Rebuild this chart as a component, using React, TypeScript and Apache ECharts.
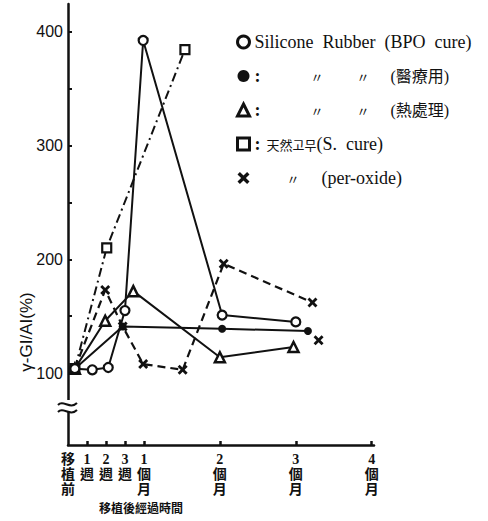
import React, { useEffect, useRef } from 'react';
import * as echarts from 'echarts';

// Series names (legend order)
const SERIES_NAMES = [
  'Silicone Rubber (BPO cure)',
  '〃 〃 (醫療用)',
  '〃 〃 (熱處理)',
  '天然고무(S. cure)',
  '〃 (per-oxide)',
];

// x: months after transplantation, y: γ-GI/AI (%)
const bpoMonths = [0.09, 0.32, 0.53, 0.75, 0.99, 2.03, 3.0];
const bpoValues = [104, 103, 105, 155, 392, 151, 145];
const medMonths = [0.09, 0.72, 2.03, 3.16];
const medValues = [104, 141, 139, 137];
const heatMonths = [0.09, 0.49, 0.86, 2.0, 2.97];
const heatValues = [104, 146, 172, 114, 123];
const natSMonths = [0.09, 0.51, 1.54];
const natSValues = [104, 210, 384];
const natPMonths = [0.09, 0.49, 0.72, 0.99, 1.51, 2.05, 3.22];
const natPValues = [104, 173, 141, 108, 103, 196, 162];
const extraMonths = [3.3];
const extraValues = [129];

// Axis ticks / labels
const X_TICKS = [0.25, 0.5, 0.75, 1, 2, 3, 4];
const X_LABEL_VALUES = [0, 0.25, 0.5, 0.75, 1, 2, 3, 4];
const X_LABELS = ['移\n植\n前', '1\n週', '2\n週', '3\n週', '1\n個\n月', '2\n個\n月', '3\n個\n月', '4\n個\n月'];
const Y_TICKS = [100, 150, 200, 250, 300, 350, 400];
const Y_LABELS = [100, 200, 300, 400];

const X_TITLE = '移植後經過時間';
const Y_TITLE = 'γ-GI/AI(%)';

const BLACK = '#111111';
const X_PATH = 'path://M2,0 L5,3 L8,0 L10,2 L7,5 L10,8 L8,10 L5,7 L2,10 L0,8 L3,5 L0,2 Z';

const pts = (ms: number[], vs: number[]) => ms.map((m, i) => [m, vs[i]]);

const LEGEND_TEXT: Record<string, string> = {
  [SERIES_NAMES[0]]: '{lat|Silicone  Rubber  (BPO  cure)}',
  [SERIES_NAMES[1]]: '{col|:}{q1|〃}{q2|〃}{cjk|(醫療用)}',
  [SERIES_NAMES[2]]: '{col|:}{q1|〃}{q2|〃}{cjk|(熱處理)}',
  [SERIES_NAMES[3]]: '{col4|:}{kr|天然고무}{lat|(S.  cure)}',
  [SERIES_NAMES[4]]: '{q5|〃}{lat|(per-oxide)}',
};

export default function App() {
  const ref = useRef<HTMLDivElement>(null);
  useEffect(() => {
    if (!ref.current) return;
    const chart = echarts.init(ref.current, undefined, { renderer: 'svg' });
    const lineBase = (name: string, data: number[][], line: any, symbol: string, size: number, item: any, z = 3) => ({
      name,
      type: 'line',
      data,
      symbol,
      symbolSize: size,
      lineStyle: { color: BLACK, width: 2, ...line },
      itemStyle: item,
      z,
    });
    chart.setOption({
      animation: false,
      backgroundColor: '#ffffff',
      grid: { left: 68, right: 114, top: 4, bottom: 76, containLabel: false },
      xAxis: {
        type: 'value',
        min: 0,
        max: 4.03,
        splitLine: { show: false },
        axisLine: { onZero: false, lineStyle: { color: BLACK, width: 2.5 } },
        axisTick: { customValues: X_TICKS, inside: true, length: 4, lineStyle: { color: BLACK, width: 2.5 } },
        axisLabel: {
          customValues: X_LABEL_VALUES,
          formatter: (v: number) => {
            const i = X_LABEL_VALUES.findIndex((t) => Math.abs(t - v) < 1e-6);
            return i >= 0 ? X_LABELS[i] : '';
          },
          color: BLACK,
          fontSize: 14,
          lineHeight: 15,
          fontWeight: 'bold',
          fontFamily: "'Liberation Serif', 'Noto Sans CJK TC'",
          margin: 7,
        },
      },
      yAxis: {
        type: 'value',
        min: 37,
        max: 424,
        splitLine: { show: false },
        axisLine: { onZero: false, lineStyle: { color: BLACK, width: 2.5 } },
        axisTick: { customValues: Y_TICKS, inside: true, length: 4, lineStyle: { color: BLACK, width: 2 } },
        axisLabel: {
          customValues: Y_LABELS,
          color: BLACK,
          fontSize: 16,
          fontFamily: "'Liberation Sans'",
          margin: 5,
        },
      },
      legend: {
        orient: 'vertical',
        left: 231,
        top: 28,
        itemWidth: 12,
        itemHeight: 12,
        itemGap: 16,
        selectedMode: false,
        formatter: (name: string) => LEGEND_TEXT[name] || name,
        textStyle: {
          color: BLACK,
          rich: {
            lat: { fontFamily: "'Liberation Serif'", fontSize: 18, lineHeight: 16, color: BLACK },
            col: { fontFamily: "'Liberation Serif'", fontSize: 18, fontWeight: 'bold', lineHeight: 16, padding: [0, 50, 0, 0], color: BLACK },
            col4: { fontFamily: "'Liberation Serif'", fontSize: 18, fontWeight: 'bold', lineHeight: 16, padding: [0, 6, 0, 0], color: BLACK },
            q1: { fontFamily: "'Noto Sans CJK TC'", fontSize: 13, lineHeight: 16, padding: [0, 33, 0, 0], color: BLACK },
            q2: { fontFamily: "'Noto Sans CJK TC'", fontSize: 13, lineHeight: 16, padding: [0, 21, 0, 0], color: BLACK },
            q5: { fontFamily: "'Noto Sans CJK TC'", fontSize: 13, lineHeight: 16, padding: [0, 22, 0, 32], color: BLACK },
            cjk: { fontFamily: "'Liberation Serif', 'Noto Sans CJK TC'", fontSize: 16, lineHeight: 16, color: BLACK },
            kr: { fontFamily: "'Noto Sans CJK KR'", fontSize: 13, lineHeight: 16, color: BLACK },
          },
        },
        data: [
          { name: SERIES_NAMES[0], icon: 'circle', itemStyle: { color: '#fff', borderColor: BLACK, borderWidth: 3 } },
          { name: SERIES_NAMES[1], icon: 'circle', itemStyle: { color: BLACK, borderWidth: 0 } },
          { name: SERIES_NAMES[2], icon: 'triangle', itemStyle: { color: '#fff', borderColor: BLACK, borderWidth: 3 } },
          { name: SERIES_NAMES[3], icon: 'rect', itemStyle: { color: '#fff', borderColor: BLACK, borderWidth: 3 } },
          { name: SERIES_NAMES[4], icon: X_PATH, itemStyle: { color: BLACK, borderWidth: 0 } },
        ],
      },
      series: [
        lineBase(SERIES_NAMES[0], pts(bpoMonths, bpoValues), {}, 'circle', 9,
          { color: '#fff', borderColor: BLACK, borderWidth: 2.2 }, 4),
        lineBase(SERIES_NAMES[1], pts(medMonths, medValues), {}, 'circle', 8,
          { color: BLACK, borderWidth: 0 }, 3),
        lineBase(SERIES_NAMES[2], pts(heatMonths, heatValues), {}, 'triangle', 10,
          { color: '#fff', borderColor: BLACK, borderWidth: 2.5 }, 3),
        lineBase(SERIES_NAMES[3], pts(natSMonths, natSValues), { width: 2, type: [9, 4, 2, 4] }, 'rect', 9,
          { color: '#fff', borderColor: BLACK, borderWidth: 2.2 }, 3),
        lineBase(SERIES_NAMES[4], pts(natPMonths, natPValues), { width: 2.2, type: [8, 5] }, X_PATH, 10,
          { color: BLACK, borderWidth: 0 }, 3),
        {
          name: 'per-oxide extra',
          type: 'scatter',
          data: pts(extraMonths, extraValues),
          symbol: X_PATH,
          symbolSize: 10,
          itemStyle: { color: BLACK, opacity: 1 },
          z: 3,
        },
      ],
      graphic: [
        {
          type: 'text',
          x: 26,
          y: 332,
          rotation: Math.PI / 2,
          z: 100,
          style: { text: Y_TITLE, font: "17px 'Liberation Sans'", fill: BLACK, align: 'center', verticalAlign: 'middle' },
        },
        {
          type: 'text',
          x: 141,
          y: 507,
          z: 100,
          style: { text: X_TITLE, font: "bold 12px 'Noto Sans CJK TC'", fill: BLACK, align: 'center', verticalAlign: 'middle' },
        },
        { type: 'rect', z: 100, shape: { x: 60, y: 400, width: 16, height: 12 }, style: { fill: '#ffffff' } },
        {
          type: 'bezierCurve', z: 101,
          shape: { x1: 58, y1: 405, cpx1: 63, cpy1: 399, cpx2: 70, cpy2: 410, x2: 77, y2: 403 },
          style: { stroke: BLACK, lineWidth: 2, fill: null },
        },
        {
          type: 'bezierCurve', z: 101,
          shape: { x1: 58, y1: 412, cpx1: 63, cpy1: 406, cpx2: 70, cpy2: 417, x2: 77, y2: 410 },
          style: { stroke: BLACK, lineWidth: 2, fill: null },
        },
      ],
    });
    return () => chart.dispose();
  }, []);
  return (
    <div
      ref={ref}
      style={{ position: 'fixed', left: 0, top: 0, width: 488, height: 521, background: '#fff' }}
    />
  );
}
